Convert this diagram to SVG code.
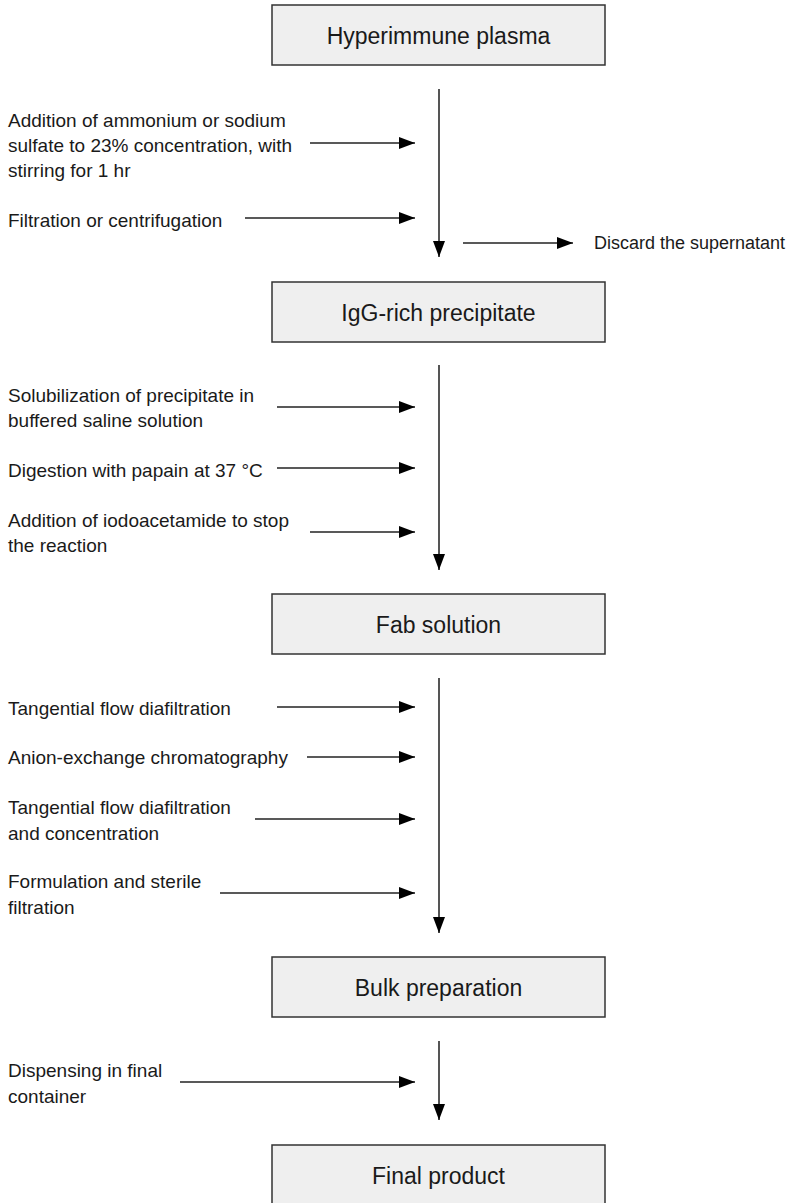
<svg xmlns="http://www.w3.org/2000/svg" width="793" height="1203" viewBox="0 0 793 1203">
<style>
.box{fill:#efefef;stroke:#333;stroke-width:1.5}
.bt{font-family:"Liberation Sans",Arial,sans-serif;font-size:23px;fill:#1a1a1a;text-anchor:middle}
.st{font-family:"Liberation Sans",Arial,sans-serif;font-size:19px;fill:#1a1a1a}
.v{stroke:#555;stroke-width:2;fill:none;marker-end:url(#ah)}
.h{stroke:#222;stroke-width:1.5;fill:none;marker-end:url(#ah)}
</style>
<defs>
<marker id="ah" markerUnits="userSpaceOnUse" markerWidth="16" markerHeight="12" viewBox="0 0 16 12" refX="16" refY="6" orient="auto">
<path d="M0,0 L16,6 L0,12 Z" fill="#000"/>
</marker>
</defs>
<rect width="793" height="1203" fill="#fff"/>
<g id="node-hyperimmune-plasma"><rect class="box" x="272" y="5" width="333" height="60"/><text class="bt" x="438.5" y="44">Hyperimmune plasma</text></g>
<g id="node-igg-rich-precipitate"><rect class="box" x="272" y="282" width="333" height="60"/><text class="bt" x="438.5" y="321">IgG-rich precipitate</text></g>
<g id="node-fab-solution"><rect class="box" x="272" y="594" width="333" height="60"/><text class="bt" x="438.5" y="633">Fab solution</text></g>
<g id="node-bulk-preparation"><rect class="box" x="272" y="957" width="333" height="60"/><text class="bt" x="438.5" y="996">Bulk preparation</text></g>
<g id="node-final-product"><rect class="box" x="272" y="1145" width="333" height="62"/><text class="bt" x="438.5" y="1184">Final product</text></g>
<g id="step-labels">
<text class="st" x="8" y="127">Addition of ammonium or sodium</text>
<text class="st" x="8" y="152">sulfate to 23% concentration, with</text>
<text class="st" x="8" y="177">stirring for 1 hr</text>
<text class="st" x="8" y="227">Filtration or centrifugation</text>
<text class="st" x="594" y="249" style="font-size:18px">Discard the supernatant</text>
<text class="st" x="8" y="402">Solubilization of precipitate in</text>
<text class="st" x="8" y="427">buffered saline solution</text>
<text class="st" x="8" y="477">Digestion with papain at 37 °C</text>
<text class="st" x="8" y="527">Addition of iodoacetamide to stop</text>
<text class="st" x="8" y="552">the reaction</text>
<text class="st" x="8" y="715">Tangential flow diafiltration</text>
<text class="st" x="8" y="764">Anion-exchange chromatography</text>
<text class="st" x="8" y="814">Tangential flow diafiltration</text>
<text class="st" x="8" y="840">and concentration</text>
<text class="st" x="8" y="888">Formulation and sterile</text>
<text class="st" x="8" y="914">filtration</text>
<text class="st" x="8" y="1077">Dispensing in final</text>
<text class="st" x="8" y="1103">container</text>
</g>
<g id="connectors">
<line class="v" x1="439" y1="89" x2="439" y2="257"/>
<line class="v" x1="439" y1="365" x2="439" y2="570"/>
<line class="v" x1="439" y1="678" x2="439" y2="933"/>
<line class="v" x1="439" y1="1041" x2="439" y2="1120"/>
<line class="h" x1="310" y1="143" x2="415" y2="143"/>
<line class="h" x1="245" y1="218" x2="415" y2="218"/>
<line class="h" x1="463" y1="243" x2="573" y2="243"/>
<line class="h" x1="277" y1="407" x2="415" y2="407"/>
<line class="h" x1="277" y1="468" x2="415" y2="468"/>
<line class="h" x1="310" y1="532" x2="415" y2="532"/>
<line class="h" x1="277" y1="707" x2="415" y2="707"/>
<line class="h" x1="307" y1="757" x2="415" y2="757"/>
<line class="h" x1="255" y1="819" x2="415" y2="819"/>
<line class="h" x1="220" y1="893" x2="415" y2="893"/>
<line class="h" x1="180" y1="1082" x2="415" y2="1082"/>
</g>
</svg>
